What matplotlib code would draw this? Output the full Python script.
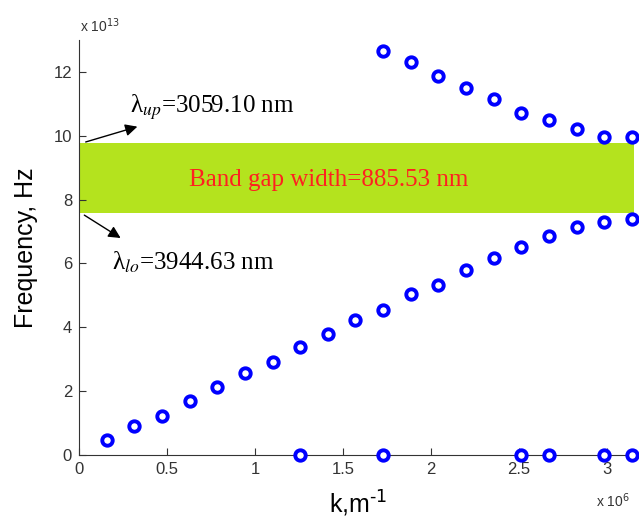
import numpy as np
import matplotlib.pyplot as plt
from matplotlib.patches import Rectangle

plt.rcParams['mathtext.fontset'] = 'stix'

# wave number k (x 1e6 m^-1), 20 points from pi/20 to pi
k = [0.157, 0.314, 0.471, 0.628, 0.785, 0.942, 1.100, 1.257, 1.414, 1.571,
     1.728, 1.885, 2.042, 2.199, 2.356, 2.513, 2.670, 2.827, 2.985, 3.142]

# frequencies (x 1e13 Hz)
f_lower = [0.47, 0.92, 1.22, 1.70, 2.13, 2.56, 2.90, 3.37, 3.80, 4.24,
           4.55, 5.03, 5.33, 5.80, 6.17, 6.51, 6.85, 7.13, 7.29, 7.38]
k_upper = [1.728, 1.885, 2.042, 2.199, 2.356, 2.513, 2.670, 2.827, 2.985, 3.142]
f_upper = [12.66, 12.31, 11.88, 11.51, 11.15, 10.71, 10.49, 10.21, 9.95, 9.95]
k_zero = [1.257, 1.728, 2.513, 2.670, 2.985, 3.142]
f_zero = [0, 0, 0, 0, 0, 0]

gap_lo = 7.58
gap_up = 9.77

fig = plt.figure(figsize=(6.39, 5.26), dpi=100)
ax = fig.add_axes([0.1236, 0.135, 0.989 - 0.1236, 0.924 - 0.135])

ax.add_patch(Rectangle((0, gap_lo), 3.155, gap_up - gap_lo, facecolor='#b4e31e',
                       edgecolor='none', clip_on=False, zorder=1))
ax.text(1.42, 8.62, 'Band gap width=885.53 nm', color='#ff2020',
        fontsize=18, family='Liberation Serif', ha='center', va='center', zorder=3)

mk = dict(linestyle='none', marker='o', markersize=7.5, markeredgewidth=2.8,
          markeredgecolor='#0000ff', markerfacecolor='white', clip_on=False, zorder=4)
ax.plot(k, f_lower, **mk)
ax.plot(k_upper, f_upper, **mk)
ax.plot(k_zero, f_zero, **mk)

ax.annotate('', xy=(0.347, 10.31), xytext=(0.023, 9.78),
            arrowprops=dict(arrowstyle='-|>', color='black', lw=1, mutation_scale=18))
ax.annotate('', xy=(0.250, 6.75), xytext=(0.017, 7.56),
            arrowprops=dict(arrowstyle='-|>', color='black', lw=1, mutation_scale=18))
ax.text(0.29, 10.9, r'λ$_{up}$=3059.10 nm', fontsize=18,
        family='Liberation Serif', va='center', ha='left')
ax.text(0.19, 6.02, r'λ$_{lo}$=3944.63 nm', fontsize=18,
        family='Liberation Serif', va='center', ha='left')

ax.set_xlim(0, 3.142)
ax.set_ylim(0, 13)
ax.set_xticks([0, 0.5, 1, 1.5, 2, 2.5, 3])
ax.set_xticklabels(['0', '0.5', '1', '1.5', '2', '2.5', '3'])
ax.set_yticks([0, 2, 4, 6, 8, 10, 12])
ax.tick_params(direction='in', length=5, labelsize=12, labelcolor='#333333',
               color='#333333', pad=5)
for lbl in ax.get_xticklabels() + ax.get_yticklabels():
    lbl.set_family('Liberation Sans')
ax.spines['top'].set_visible(False)
ax.spines['right'].set_visible(False)
ax.spines['left'].set_color('#333333')
ax.spines['bottom'].set_color('#333333')

ax.set_ylabel('Frequency, Hz', fontsize=18, family='Liberation Sans')
ax.set_xlabel(r'k,m$^{\text{-}1}$', fontsize=18, family='Liberation Sans',
              math_fontfamily='dejavusans')
ax.xaxis.set_label_coords(0.505, -0.082)
ax.yaxis.set_label_coords(-0.075, 0.5)

fig.text(0.125, 0.94, r'x 10$^{13}$', fontsize=10, color='#333333',
         family='Liberation Sans', math_fontfamily='dejavusans')
fig.text(0.932, 0.036, r'x 10$^{6}$', fontsize=10, color='#333333',
         family='Liberation Sans', math_fontfamily='dejavusans')

fig.savefig('out.png', dpi=100)
